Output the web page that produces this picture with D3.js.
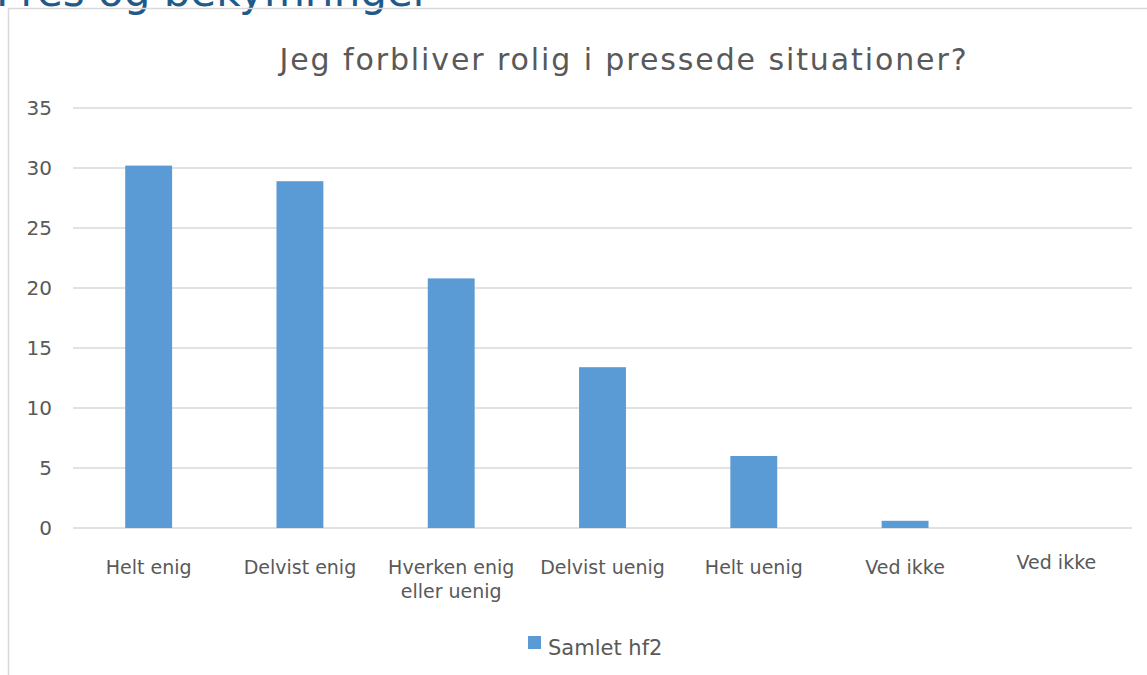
<!DOCTYPE html>
<html>
<head>
<meta charset="utf-8">
<script src="https://cdn.jsdelivr.net/npm/d3@7"></script>
<style>
  body { margin: 0; background: #fff; }
  svg { display: block; font-family: "DejaVu Sans", sans-serif; }
</style>
</head>
<body>
<svg width="1147" height="675"></svg>
<script>
// chart data
const categories = ["Helt enig", "Delvist enig", "Hverken enig|eller uenig", "Delvist uenig", "Helt uenig", "Ved ikke", "Ved ikke "];
const values = [30.2, 28.9, 20.8, 13.4, 6.0, 0.6, 0];
const yTicks = [0, 5, 10, 15, 20, 25, 30, 35];
const seriesName = "Samlet hf2";
const chartTitle = "Jeg forbliver rolig i pressede situationer?";
const pageHeading = "Pres og bekymringer";

const svg = d3.select("svg");
const margin = { top: 108, right: 15, bottom: 147, left: 73 };
const width = 1147 - margin.left - margin.right;
const height = 675 - margin.top - margin.bottom;

// page heading, cut off at the top like the screenshot
svg.append("text")
  .attr("x", -4)
  .attr("y", 6)
  .attr("fill", "#1f5a8a")
  .attr("font-size", 42)
  .text(pageHeading);

// chart frame
svg.append("path")
  .attr("d", "M8.5,675 V8.5 H1147")
  .attr("fill", "none")
  .attr("stroke", "#d9d9d9")
  .attr("stroke-width", 1.5);

svg.append("text")
  .attr("x", 624)
  .attr("y", 70)
  .attr("text-anchor", "middle")
  .attr("fill", "#595959")
  .attr("font-size", 30)
  .attr("letter-spacing", 1.9)
  .text(chartTitle);

const g = svg.append("g")
  .attr("transform", "translate(" + margin.left + "," + margin.top + ")");

const x = d3.scaleBand().domain(categories).range([0, width]).paddingInner(0.69).paddingOuter(0.345);
const y = d3.scaleLinear().domain([0, 35]).range([height, 0]);

// gridlines
g.append("g")
  .selectAll("line")
  .data(yTicks)
  .join("line")
  .attr("x1", 0)
  .attr("x2", width)
  .attr("y1", (d) => y(d))
  .attr("y2", (d) => y(d))
  .attr("stroke", "#d9d9d9")
  .attr("stroke-width", 1.5);

// y axis labels
g.append("g")
  .call(d3.axisLeft(y).tickValues(yTicks).tickSize(0).tickPadding(21))
  .call((a) => a.select(".domain").remove())
  .selectAll("text")
  .attr("font-size", 20)
  .attr("fill", "#595959")
  .attr("font-family", "DejaVu Sans, sans-serif");

// bars
g.selectAll("rect.bar")
  .data(values)
  .join("rect")
  .attr("class", "bar")
  .attr("x", (d, i) => x(categories[i]))
  .attr("width", x.bandwidth())
  .attr("y", (d) => y(d))
  .attr("height", (d) => y(0) - y(d))
  .attr("fill", "#5b9bd5");

// x labels (the last one sits a bit higher in the original)
const xl = g.append("g")
  .selectAll("text")
  .data(categories)
  .join("text")
  .attr("text-anchor", "middle")
  .attr("fill", "#595959")
  .attr("font-size", 19)
  .attr("transform", (d, i) => "translate(" + (x(d) + x.bandwidth() / 2) + "," + (height + (i === 6 ? 41 : 46)) + ")");

xl.selectAll("tspan")
  .data((d) => d.trim().split("|"))
  .join("tspan")
  .attr("x", 0)
  .attr("dy", (d, i) => (i === 0 ? 0 : 24))
  .text((d) => d);

// legend
const legend = svg.append("g").attr("transform", "translate(528,636)");
legend.append("rect").attr("width", 13).attr("height", 13).attr("fill", "#5b9bd5");
legend.append("text")
  .attr("x", 20)
  .attr("y", 19)
  .attr("fill", "#595959")
  .attr("font-size", 21)
  .text(seriesName);
</script>
</body>
</html>
